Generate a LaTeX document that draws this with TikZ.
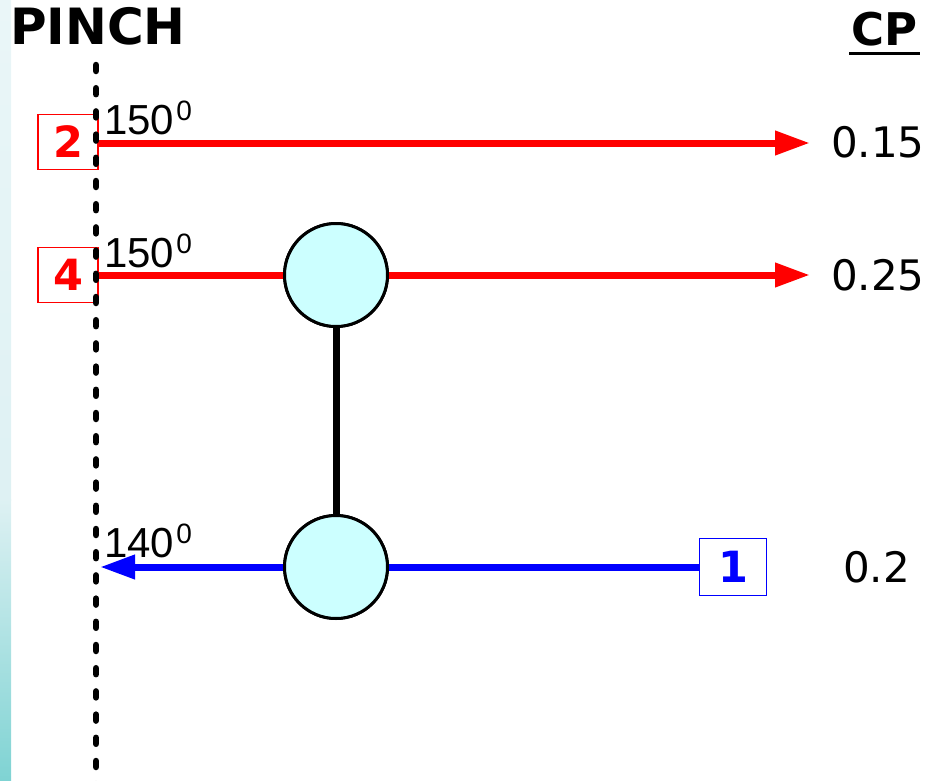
\documentclass[tikz,border=0pt]{standalone}
\usepackage{fontspec}
\setmainfont{DejaVu Sans}
\newfontfamily\tempfont{Liberation Sans}
\usetikzlibrary{arrows.meta,calc}
\definecolor{hxfill}{RGB}{204,255,255}
\definecolor{stripA}{RGB}{234,246,248}
\definecolor{stripB}{RGB}{222,241,243}
\definecolor{stripD}{RGB}{127,211,211}
\definecolor{hotred}{RGB}{255,0,0}
\definecolor{coldblue}{RGB}{0,0,255}
\begin{document}
\begin{tikzpicture}[x=1pt,y=-1pt,
  hotbox/.style={draw=hotred, line width=1.2pt, fill=white, minimum width=60pt, minimum height=55pt, inner sep=0pt, text=hotred, font=\fontsize{43pt}{43pt}\selectfont\bfseries},
  coldbox/.style={draw=coldblue, line width=1.2pt, fill=white, minimum width=67pt, minimum height=57pt, inner sep=0pt, text=coldblue, font=\fontsize{43pt}{43pt}\selectfont\bfseries},
  hxnode/.style={circle, draw=black, line width=3pt, fill=hxfill, minimum size=103pt, inner sep=0pt},
  hotstream/.style={draw=hotred, line width=7pt},
  coldstream/.style={draw=coldblue, line width=7pt},
  streamtip/.style={-{Triangle[length=35pt,width=23pt]}},
  templabel/.style={anchor=base west, inner sep=0pt, font=\tempfont\fontsize{42pt}{42pt}\selectfont},
  cplabel/.style={anchor=base west, inner sep=0pt, font=\fontsize{42pt}{42pt}\selectfont},
  pinchline/.style={draw=black, line width=6.5pt, line cap=round, dash pattern=on 6pt off 17.2pt},
  headlabel/.style={anchor=base west, inner sep=0pt, font=\bfseries},
]
\useasboundingbox (0,0) rectangle (935,780);
% left gradient strip
\shade[top color=stripA, bottom color=stripB] (0,0) rectangle (11,500);
\shade[top color=stripB, bottom color=stripD] (0,499.5) rectangle (11,780);

% headings
\node[headlabel, font=\fontsize{50pt}{50pt}\selectfont\bfseries] (pinch) at (10,44) {PINCH};
\node[headlabel, font=\fontsize{45pt}{45pt}\selectfont\bfseries] (cp) at (851,45) {CP};
\draw[line width=3pt] ($(cp.base west)+(-2,8)$) -- ($(cp.base east)+(3,8)$);

% stream boxes
\node[hotbox] (b2) at (68,142) {2};
\node[hotbox] (b4) at (68,275) {4};
\node[coldbox] (b1) at (733,567) {1};

% heat exchangers
\node[hxnode] (h1) at (336,275) {};
\node[hxnode] (h2) at (336,567) {};

% end coordinates
\coordinate (e2) at (810,143);
\coordinate (e4) at (810,275);
\coordinate (p1) at (100,567);

% streams
\draw[hotstream, streamtip] (b2.east |- e2) -- (e2);
\draw[hotstream] (b4.east) -- (h1.west);
\draw[hotstream, streamtip] (h1.east) -- (e4);
\draw[coldstream] (b1.west) -- (h2.east);
\draw[coldstream, streamtip] (h2.west) -- (p1);
\draw[line width=7pt] (h1.south) -- (h2.north);

% redraw circles on top
\node[hxnode] at (h1) {};
\node[hxnode] at (h2) {};

% pinch line
\coordinate (ptop) at (96,65);
\coordinate (pbot) at (96,790);
\draw[pinchline] (ptop) -- (pbot);

% temperatures
\node[templabel] (t2) at (104,134) {150\hspace{2pt}\raisebox{14pt}{\fontsize{28pt}{28pt}\selectfont 0}};
\node[templabel] (t4) at (104,267) {150\hspace{2pt}\raisebox{14pt}{\fontsize{28pt}{28pt}\selectfont 0}};
\node[templabel] (t1) at (104,557) {140\hspace{2pt}\raisebox{14pt}{\fontsize{28pt}{28pt}\selectfont 0}};

% heat capacity flow rates
\node[cplabel] (c2) at (831,157) {0.15};
\node[cplabel] (c4) at (831,290) {0.25};
\node[cplabel] (c1) at (843,582) {0.2};
\end{tikzpicture}
\end{document}
